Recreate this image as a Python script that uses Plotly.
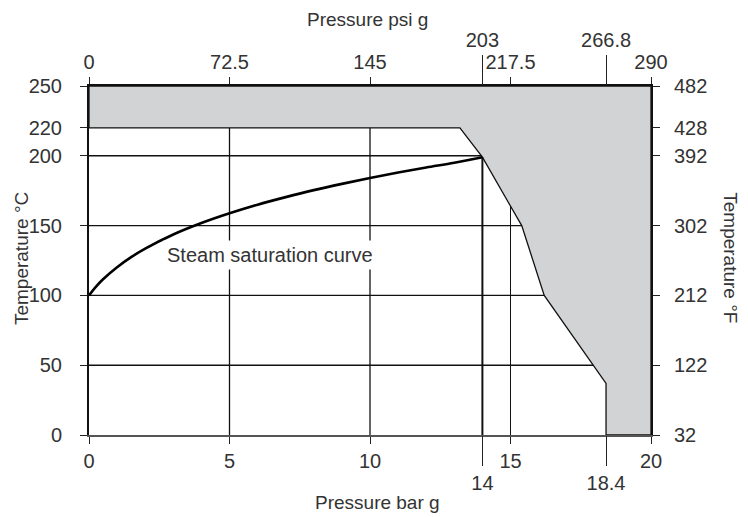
import numpy as np
import plotly.graph_objects as go

# ---- data ----
bar_ticks = [0, 5, 10, 15, 20]
bar_extra = [14, 18.4]
psi_ticks = [0, 72.5, 145, 217.5, 290]
psi_extra = [203, 266.8]
temp_c_ticks = [0, 50, 100, 150, 200, 220, 250]
temp_f_ticks = [32, 122, 212, 302, 392, 428, 482]

# steam saturation curve (bar g -> deg C)
sat_p = [0, 0.25, 0.5, 1, 1.5, 2, 3, 4, 5, 6, 7, 8, 9, 10, 11, 12, 13, 14]
sat_t = [100, 106.3, 111.6, 120.2, 127.4, 133.5, 143.6, 151.8, 158.8, 165.0,
         170.4, 175.4, 179.9, 184.1, 188.0, 191.6, 195.0, 199.0]

# operating limit boundary (bar g, deg C)
lim_p = [0, 13.2, 14, 15.4, 16.2, 18.4, 18.4]
lim_t = [220, 220, 199, 150, 100, 37, 0]

grid_t = [50, 100, 150, 200]
grid_p = [5, 10, 14, 15]

TEXT = "#333333"
FONT = "Liberation Sans, Arial, sans-serif"

fig = go.Figure()

# shaded region: boundary + top/right frame
poly_x = lim_p + [20, 20, 0, 0]
poly_y = lim_t + [0, 250, 250, 220]
fig.add_trace(go.Scatter(x=poly_x, y=poly_y, mode="lines", fill="toself",
                         fillcolor="#d1d3d4", line=dict(color="#111", width=1.3),
                         hoverinfo="skip", showlegend=False))

# horizontal grid lines ending at the boundary
bx = np.array(lim_p[:-1])
by = np.array(lim_t[:-1])
for t in grid_t:
    xe = float(np.interp(t, by[::-1], bx[::-1]))
    fig.add_trace(go.Scatter(x=[0, xe], y=[t, t], mode="lines",
                             line=dict(color="#111", width=1.4),
                             hoverinfo="skip", showlegend=False))

# vertical grid lines ending at the boundary
for p in grid_p:
    ye = float(np.interp(p, bx, by))
    w = 2.0 if p == 14 else (1.0 if p == 15 else 1.3)
    fig.add_trace(go.Scatter(x=[p, p], y=[0, ye], mode="lines",
                             line=dict(color="#111", width=w),
                             hoverinfo="skip", showlegend=False))

# saturation curve
fig.add_trace(go.Scatter(x=sat_p, y=sat_t, mode="lines",
                         line=dict(color="#000", width=2.6, shape="spline"),
                         hoverinfo="skip", showlegend=False))

tickfont = dict(family=FONT, size=20, color=TEXT)
common = dict(showgrid=False, zeroline=False, ticks="outside", tickcolor="#222",
              tickwidth=1.3, tickfont=tickfont, fixedrange=True)

fig.update_layout(
    width=740, height=509,
    margin=dict(l=81, r=97, t=78, b=82),
    paper_bgcolor="white", plot_bgcolor="white",
    font=dict(family=FONT, color=TEXT),
    xaxis=dict(range=[0, 20], tickvals=bar_ticks, ticklen=7, showline=True,
               linecolor="#555", linewidth=2, **common),
    xaxis3=dict(range=[0, 20], tickvals=bar_extra, ticktext=[str(v) for v in bar_extra],
                ticklen=30, overlaying="x", side="bottom", anchor="y",
                showline=False, **common),
    xaxis2=dict(range=[0, 290], tickvals=psi_ticks, ticktext=[str(v) for v in psi_ticks],
                ticklen=7, overlaying="x", side="top", anchor="y",
                showline=True, linecolor="#111", linewidth=2, **common),
    xaxis4=dict(range=[0, 290], tickvals=psi_extra, ticktext=[str(v) for v in psi_extra],
                ticklen=30, overlaying="x", side="top", anchor="y",
                showline=False, **common),
    yaxis=dict(range=[0, 250], tickvals=temp_c_ticks, ticklen=7, showline=True,
               linecolor="#111", linewidth=2, ticklabelstandoff=14, **common),
    yaxis2=dict(range=[32, 482], tickvals=temp_f_ticks, ticklen=7, overlaying="y",
                side="right", anchor="x", showline=True, linecolor="#111",
                linewidth=2, ticklabelstandoff=10, **common),
)

# invisible helper traces so the overlay axes are drawn
for xa, ya, xr, yr in [("x3", "y", 0, 0), ("x2", "y", 0, 0), ("x4", "y", 0, 0), ("x", "y2", 0, 32)]:
    fig.add_trace(go.Scatter(x=[xr], y=[yr], xaxis=xa, yaxis=ya, mode="markers",
                             marker=dict(opacity=0), hoverinfo="skip", showlegend=False))

tfont = dict(family=FONT, size=19, color=TEXT)
ann = dict(xref="paper", yref="paper", showarrow=False, font=tfont,
           xanchor="center", yanchor="middle")
fig.add_annotation(text="Pressure psi g", x=0.4956, y=1.190, **ann)
fig.add_annotation(text="Pressure bar g", x=0.5125, y=-0.192, **ann)
fig.add_annotation(text="Temperature °C", x=-0.1210, y=0.507, textangle=-90, **ann)
fig.add_annotation(text="Temperature °F", x=1.142, y=0.507, textangle=90, **ann)
fig.add_annotation(text="Steam saturation curve", x=2.64, y=129, xref="x", yref="y",
                   xanchor="left", showarrow=False, bgcolor="white", borderpad=3,
                   font=dict(family=FONT, size=20, color=TEXT))

fig.write_html("out.html")
